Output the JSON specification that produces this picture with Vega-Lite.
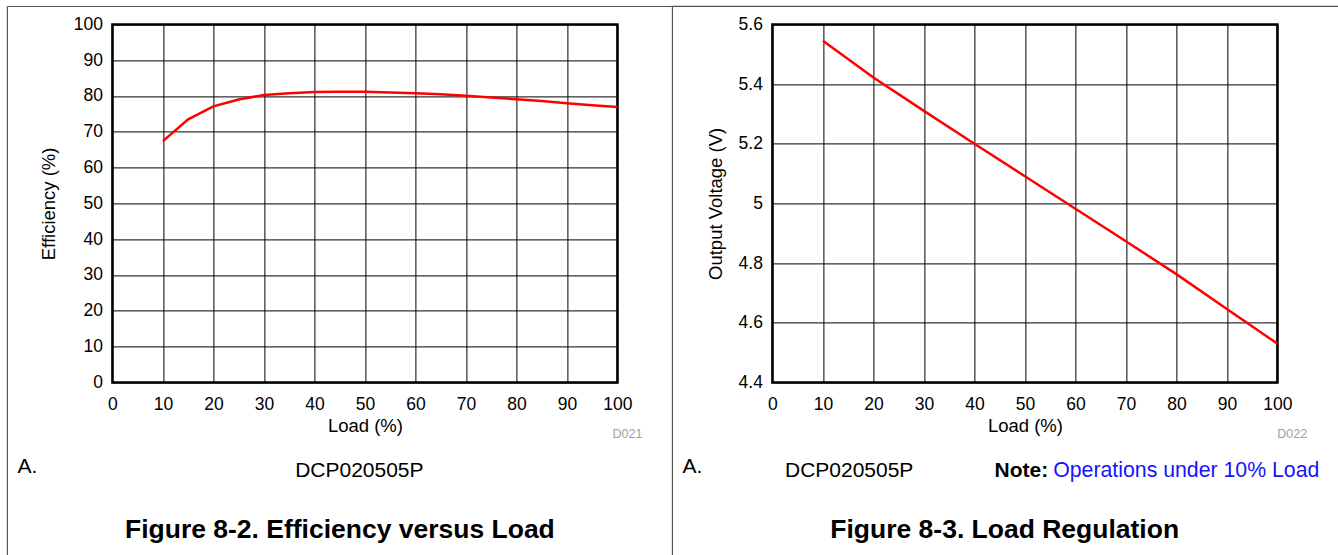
{
  "$schema": "https://vega.github.io/schema/vega-lite/v6.json",
  "padding": {"left": 5.4, "top": 4.4, "right": 0, "bottom": 0},
  "background": "white",
  "bounds": "flush",
  "spacing": 155,
  "config": {
    "font": "Liberation Sans",
    "view": {"stroke": "#000000", "strokeWidth": 2.5},
    "axis": {
      "grid": true, "gridColor": "#000000", "gridOpacity": 1, "gridWidth": 1,
      "domain": false, "ticks": false, "tickSize": 0,
      "labelFont": "Liberation Sans", "labelFontSize": 17.5, "labelColor": "#000000",
      "titleFont": "Liberation Sans", "titleFontSize": 18.5, "titleFontWeight": "normal", "titleColor": "#000000"
    },
    "axisX": {"labelPadding": 13, "titlePadding": 3.5},
    "axisY": {"labelPadding": 10}
  },
  "hconcat": [
    {
      "width": 505,
      "height": 358,
      "encoding": {
        "x": {"field": "x", "type": "quantitative", "scale": {"domain": [0, 100], "nice": false, "zero": false},
              "axis": {"title": "Load (%)", "values": [0, 10, 20, 30, 40, 50, 60, 70, 80, 90, 100], "labelFlush": false}},
        "y": {"field": "y", "type": "quantitative", "scale": {"domain": [0, 100], "nice": false, "zero": false},
              "axis": {"title": "Efficiency (%)", "values": [0, 10, 20, 30, 40, 50, 60, 70, 80, 90, 100], "titlePadding": 15}}
      },
      "layer": [
        {
          "data": {"values": [
            {"x": 10, "y": 67.4}, {"x": 15, "y": 73.5}, {"x": 20, "y": 77.1}, {"x": 25, "y": 79.0},
            {"x": 30, "y": 80.3}, {"x": 35, "y": 80.8}, {"x": 40, "y": 81.1}, {"x": 45, "y": 81.2},
            {"x": 50, "y": 81.2}, {"x": 55, "y": 81.0}, {"x": 60, "y": 80.8}, {"x": 65, "y": 80.5},
            {"x": 70, "y": 80.1}, {"x": 75, "y": 79.6}, {"x": 80, "y": 79.1}, {"x": 85, "y": 78.6},
            {"x": 90, "y": 78.0}, {"x": 95, "y": 77.4}, {"x": 100, "y": 76.9}
          ]},
          "mark": {"type": "line", "color": "#ff0000", "strokeWidth": 2.5}
        },
        {
          "data": {"values": [
            {"x": -20.8, "y": 105, "x2": 110.9, "y2": 105},
            {"x": -20.8, "y": 105, "x2": -20.8, "y2": -48.3},
            {"x": 110.9, "y": 105, "x2": 110.9, "y2": -48.3}
          ]},
          "mark": {"type": "rule", "color": "#555555", "strokeWidth": 1.2},
          "encoding": {"x2": {"field": "x2"}, "y2": {"field": "y2"}}
        },
        {
          "data": {"values": [{"x": -18.8, "y": -23.5, "label": "A."}]},
          "mark": {"type": "text", "align": "left", "baseline": "middle", "fontSize": 21, "color": "#000000"},
          "encoding": {"text": {"field": "label"}}
        },
        {
          "data": {"values": [{"x": 48.9, "y": -24.7, "label": "DCP020505P"}]},
          "mark": {"type": "text", "align": "center", "baseline": "middle", "fontSize": 21, "color": "#000000"},
          "encoding": {"text": {"field": "label"}}
        },
        {
          "data": {"values": [{"x": 45.05, "y": -41.3, "label": "Figure 8-2. Efficiency versus Load"}]},
          "mark": {"type": "text", "align": "center", "baseline": "middle", "fontSize": 26.5, "fontWeight": "bold", "color": "#000000"},
          "encoding": {"text": {"field": "label"}}
        },
        {
          "data": {"values": [{"x": 104.95, "y": -14.5, "label": "D021"}]},
          "mark": {"type": "text", "align": "right", "baseline": "middle", "fontSize": 12.5, "color": "#a0a0a0"},
          "encoding": {"text": {"field": "label"}}
        }
      ]
    },
    {
      "width": 505,
      "height": 358,
      "encoding": {
        "x": {"field": "x", "type": "quantitative", "scale": {"domain": [0, 100], "nice": false, "zero": false},
              "axis": {"title": "Load (%)", "values": [0, 10, 20, 30, 40, 50, 60, 70, 80, 90, 100], "labelFlush": false}},
        "y": {"field": "y", "type": "quantitative", "scale": {"domain": [4.4, 5.6], "nice": false, "zero": false},
              "axis": {"title": "Output Voltage (V)", "values": [4.4, 4.6, 4.8, 5, 5.2, 5.4, 5.6], "format": "~g", "titlePadding": 13}}
      },
      "layer": [
        {
          "data": {"values": [
            {"x": 10, "y": 5.545}, {"x": 20, "y": 5.422}, {"x": 30, "y": 5.31}, {"x": 40, "y": 5.2},
            {"x": 50, "y": 5.091}, {"x": 60, "y": 4.982}, {"x": 70, "y": 4.873}, {"x": 80, "y": 4.763},
            {"x": 90, "y": 4.646}, {"x": 100, "y": 4.53}
          ]},
          "mark": {"type": "line", "color": "#ff0000", "strokeWidth": 2.5}
        },
        {
          "data": {"values": [
            {"x": -19.8, "y": 5.6603, "x2": 112.5, "y2": 5.6603}
          ]},
          "mark": {"type": "rule", "color": "#555555", "strokeWidth": 1.2},
          "encoding": {"x2": {"field": "x2"}, "y2": {"field": "y2"}}
        },
        {
          "data": {"values": [{"x": -17.8, "y": 4.118, "label": "A."}]},
          "mark": {"type": "text", "align": "left", "baseline": "middle", "fontSize": 21, "color": "#000000"},
          "encoding": {"text": {"field": "label"}}
        },
        {
          "data": {"values": [{"x": 15.2, "y": 4.1033, "label": "DCP020505P"}]},
          "mark": {"type": "text", "align": "center", "baseline": "middle", "fontSize": 21, "color": "#000000"},
          "encoding": {"text": {"field": "label"}}
        },
        {
          "data": {"values": [{"x": 44.0, "y": 4.1033, "label": "Note:"}]},
          "mark": {"type": "text", "align": "left", "baseline": "middle", "fontSize": 21, "fontWeight": "bold", "color": "#000000"},
          "encoding": {"text": {"field": "label"}}
        },
        {
          "data": {"values": [{"x": 55.6, "y": 4.1033, "label": "Operations under 10% Load"}]},
          "mark": {"type": "text", "align": "left", "baseline": "middle", "fontSize": 21.3, "color": "#1414ff"},
          "encoding": {"text": {"field": "label"}}
        },
        {
          "data": {"values": [{"x": 46.0, "y": 3.904, "label": "Figure 8-3. Load Regulation"}]},
          "mark": {"type": "text", "align": "center", "baseline": "middle", "fontSize": 26.5, "fontWeight": "bold", "color": "#000000"},
          "encoding": {"text": {"field": "label"}}
        },
        {
          "data": {"values": [{"x": 105.9, "y": 4.2257, "label": "D022"}]},
          "mark": {"type": "text", "align": "right", "baseline": "middle", "fontSize": 12.5, "color": "#a0a0a0"},
          "encoding": {"text": {"field": "label"}}
        }
      ]
    }
  ]
}
